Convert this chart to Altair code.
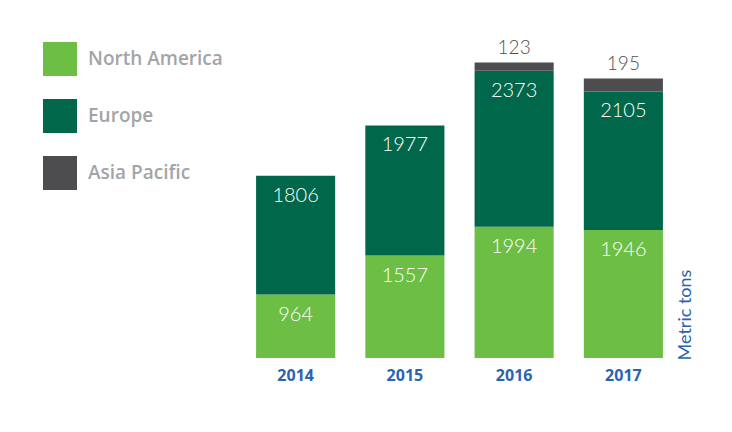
import altair as alt
import pandas as pd

years = ["2014", "2015", "2016", "2017"]
regions = ["North America", "Europe", "Asia Pacific"]
north_america = [964, 1557, 1994, 1946]
europe = [1806, 1977, 2373, 2105]
asia_pacific = [0, 0, 123, 195]
colors = ["#6dbe45", "#00674a", "#4d4d4f"]

rows = []
for i, y in enumerate(years):
    for k, (r, vals) in enumerate(zip(regions, [north_america, europe, asia_pacific])):
        if vals[i] > 0:
            rows.append({"year": y, "region": r, "value": vals[i], "order": k})
df = pd.DataFrame(rows)

base = alt.Chart(df).transform_stack(
    stack="value", groupby=["year"], as_=["v0", "v1"], sort=[alt.SortField("order")]
)

x_enc = alt.X(
    "year:N",
    sort=years,
    scale=alt.Scale(paddingInner=0.276, paddingOuter=0.138),
    axis=alt.Axis(
        title=None, labelAngle=0, ticks=False, domain=False,
        labelFont="Open Sans", labelFontSize=16, labelFontWeight="bold",
        labelColor="#2a64b0", labelPadding=9,
    ),
)

bars = base.mark_bar().encode(
    x=x_enc,
    y=alt.Y(
        "v0:Q",
        scale=alt.Scale(domain=[0, 5000], nice=False),
        axis=alt.Axis(
            orient="right", title="Metric tons", labels=False, ticks=False,
            domain=False, grid=False, titleAngle=270, titleAlign="left",
            titleBaseline="middle", titleX=7, titleY=331, titleFont="Lato",
            titleFontSize=18, titleFontWeight="normal", titleColor="#2a64b0",
        ),
    ),
    y2="v1:Q",
    fill=alt.Fill(
        "region:N",
        scale=alt.Scale(domain=regions, range=colors),
        legend=alt.Legend(
            title=None, orient="none", legendX=-198, legendY=13,
            symbolType="square", symbolSize=1156, symbolStrokeWidth=0,
            symbolOpacity=1, labelFont="Open Sans", labelFontSize=19,
            labelFontWeight=600, labelColor="#a3a4a8", labelOffset=11,
            rowPadding=23, padding=0,
        ),
    ),
)

inner = base.transform_filter(alt.datum.region != "Asia Pacific").mark_text(
    font="Lato", fontSize=20, fontWeight=300, color="white", baseline="middle", dy=20
).encode(x=alt.X("year:N", sort=years), y="v1:Q", text="value:Q")

top = base.transform_filter(alt.datum.region == "Asia Pacific").mark_text(
    font="Lato", fontSize=19, fontWeight=300, color="#4f4f51", baseline="alphabetic", dy=-9
).encode(x=alt.X("year:N", sort=years), y="v1:Q", text="value:Q")

chart = alt.layer(bars, inner, top).properties(
    width=437, height=329,
    autosize=alt.AutoSizeParams(type="none"),
    padding={"left": 233, "top": 21, "right": 46, "bottom": 66},
    background="white",
).configure_view(stroke=None)

chart.save("out.html", embed_options={"renderer": "svg", "actions": False})
